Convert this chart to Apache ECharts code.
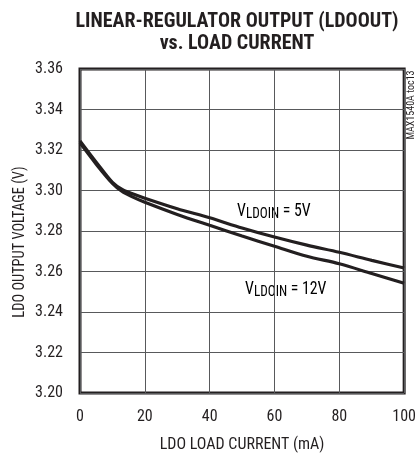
<!DOCTYPE html>
<html><head><meta charset="utf-8">
<script src="https://cdn.jsdelivr.net/npm/echarts@6/dist/echarts.min.js"></script>
<style>html,body{margin:0;padding:0;background:#fff}#c{width:419px;height:458px}</style>
</head><body><div id="c"></div>
<script>
const loadCurrent = [0, 5, 10, 13, 16, 20, 30, 40, 50, 60, 70, 80, 90, 100];
const vout5V  = [3.3245, 3.314, 3.304, 3.3005, 3.2985, 3.2962, 3.2910, 3.2865, 3.2815, 3.2770, 3.2730, 3.2695, 3.2655, 3.2617];
const vout12V = [3.3235, 3.313, 3.3035, 3.2995, 3.2970, 3.2942, 3.2882, 3.2828, 3.2775, 3.2725, 3.2675, 3.2638, 3.2590, 3.2542];
const xTicks = [0, 20, 40, 60, 80, 100];
const yTicks = [3.20, 3.22, 3.24, 3.26, 3.28, 3.30, 3.32, 3.34, 3.36];
const titleLines = ['LINEAR-REGULATOR OUTPUT (LDOOUT)', 'vs. LOAD CURRENT'];
const xName = 'LDO LOAD CURRENT (mA)';
const yName = 'LDO OUTPUT VOLTAGE (V)';
const seriesNames = ['5V', '12V'];
const tocLabel = 'MAX1540A toc13';

const FONT = "'Roboto Condensed', 'DejaVu Sans Condensed', sans-serif";
const INK = '#231f20';

const chart = echarts.init(document.getElementById('c'), null, {renderer: 'canvas'});
const pair = (xs, ys) => xs.map((x, i) => [x, ys[i]]);
const subLabel = (x, y, name) => ({type: 'text', x: x, y: y, scaleX: 0.88, style: {
  text: '{v|V}{s|LDOIN}{v| = ' + name + '}',
  rich: {v: {fontSize: 18, fontFamily: FONT, color: INK}, s: {fontSize: 15, fontFamily: FONT, color: INK, padding: [7, 0, 0, 0]}},
  align: 'left', verticalAlign: 'middle'}});

const option = {
  animation: false,
  backgroundColor: '#fff',
  grid: {left: 80, right: 14, top: 69, bottom: 63, show: true, borderColor: INK, borderWidth: 3, backgroundColor: 'transparent', containLabel: false},
  xAxis: {
    type: 'value', min: xTicks[0], max: xTicks[xTicks.length - 1], interval: xTicks[1] - xTicks[0],
    axisLine: {show: false}, axisTick: {show: false},
    splitLine: {show: true, lineStyle: {color: '#58595b', width: 1}},
    axisLabel: {color: INK, fontFamily: FONT, fontSize: 16, margin: 16},
    name: xName, nameLocation: 'middle', nameGap: 44,
    nameTextStyle: {color: INK, fontFamily: FONT, fontSize: 16}
  },
  yAxis: {
    type: 'value', min: yTicks[0], max: yTicks[yTicks.length - 1], interval: 0.02,
    axisLine: {show: false}, axisTick: {show: false},
    splitLine: {show: true, lineStyle: {color: '#58595b', width: 1}},
    axisLabel: {color: INK, fontFamily: FONT, fontSize: 16, margin: 17, formatter: v => v.toFixed(2)}
  },
  series: [
    {name: seriesNames[0], type: 'line', smooth: 0.3, showSymbol: false, data: pair(loadCurrent, vout5V), lineStyle: {color: INK, width: 3.2}},
    {name: seriesNames[1], type: 'line', smooth: 0.3, showSymbol: false, data: pair(loadCurrent, vout12V), lineStyle: {color: INK, width: 3.2}}
  ],
  graphic: [
    {type: 'text', x: 237, y: 22, style: {text: titleLines[0], font: "bold 20px " + FONT, fill: INK, align: 'center', verticalAlign: 'middle'}},
    {type: 'text', x: 237, y: 44, style: {text: titleLines[1], font: "bold 20px " + FONT, fill: INK, align: 'center', verticalAlign: 'middle'}},
    {type: 'text', x: 20, y: 242, rotation: Math.PI / 2, scaleX: 0.9, style: {text: yName, font: "16px " + FONT, fill: INK, align: 'center', verticalAlign: 'middle'}},
    {type: 'text', x: 411, y: 105, rotation: Math.PI / 2, style: {text: tocLabel, font: "10px " + FONT, fill: INK, align: 'center', verticalAlign: 'middle'}},
    subLabel(237, 211, seriesNames[0]),
    subLabel(245, 289, seriesNames[1])
  ]
};
chart.setOption(option);
</script>
</body></html>
